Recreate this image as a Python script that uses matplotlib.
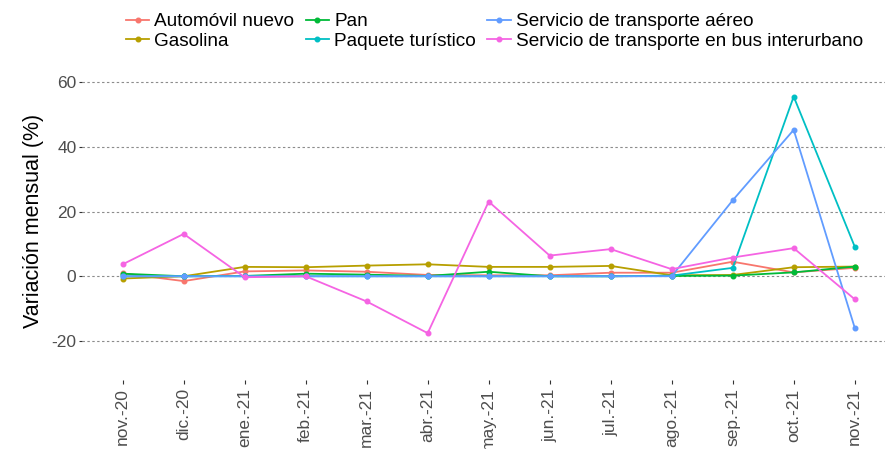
import matplotlib
matplotlib.use('Agg')
import matplotlib.pyplot as plt

# Data (monthly variation, %)
meses = ['nov.-20', 'dic.-20', 'ene.-21', 'feb.-21', 'mar.-21', 'abr.-21', 'may.-21',
         'jun.-21', 'jul.-21', 'ago.-21', 'sep.-21', 'oct.-21', 'nov.-21']

automovil_nuevo = [0.9, -1.5, 1.5, 1.8, 1.4, 0.4, 0.3, 0.3, 1.1, 1.1, 4.5, 1.2, 2.6]
gasolina = [-0.7, 0.0, 2.9, 2.8, 3.3, 3.7, 2.9, 2.9, 3.2, 0.3, 0.4, 2.8, 3.0]
pan = [0.8, 0.0, 0.1, 0.8, 0.5, 0.1, 1.4, 0.0, 0.0, 0.1, 0.2, 1.2, 3.0]
paquete_turistico = [0.0, 0.0, 0.0, 0.0, 0.0, 0.0, 0.0, 0.0, 0.0, 0.2, 2.6, 55.6, 9.2]
transporte_aereo = [0.0, 0.0, 0.0, 0.0, 0.0, 0.0, 0.0, 0.0, 0.0, 0.0, 23.5, 45.3, -15.9]
bus_interurbano = [3.7, 13.1, -0.3, 0.0, -7.8, -17.6, 23.1, 6.4, 8.4, 2.2, 5.8, 8.7, -7.1]

series = [
    ('Automóvil nuevo', automovil_nuevo, '#F8766D'),
    ('Gasolina', gasolina, '#B79F00'),
    ('Pan', pan, '#00BA38'),
    ('Paquete turístico', paquete_turistico, '#00BFC4'),
    ('Servicio de transporte aéreo', transporte_aereo, '#619CFF'),
    ('Servicio de transporte en bus interurbano', bus_interurbano, '#F564E3'),
]

plt.rcParams['font.family'] = ['Liberation Sans', 'DejaVu Sans']
plt.rcParams['axes.unicode_minus'] = False

fig = plt.figure(figsize=(8.85, 4.49), dpi=100)
ax = fig.add_axes([82 / 885, (449 - 380) / 449, 1 - 82 / 885, (380 - 62) / 449])

x = list(range(len(meses)))
handles = []
for name, vals, color in series:
    h, = ax.plot(x, vals, color=color, linewidth=1.3, marker='o', markersize=3.3,
                 label=name, zorder=3)
    handles.append(h)

ax.set_xlim(-0.667, 12.497)
ax.set_ylim(-32.1, 66.3)
ax.set_yticks([-20, 0, 20, 40, 60])
ax.set_xticks(x)
ax.set_xticklabels(meses, rotation=90, fontsize=12.5, color='#4D4D4D')
ax.tick_params(axis='y', labelsize=12.5, labelcolor='#4D4D4D', length=2.5,
               width=0.8, color='#333333', pad=1.5)
ax.tick_params(axis='x', length=3, width=0.8, color='#333333', pad=3)

ax.yaxis.grid(True, color='#8c8c8c', linestyle=(0, (2.2, 2.2)), linewidth=0.8)
ax.xaxis.grid(False)
ax.set_axisbelow(True)
for s in ax.spines.values():
    s.set_visible(False)

ax.set_ylabel('Variación mensual (%)', fontsize=15.5, color='black', labelpad=5.5)

fig.legend(handles=handles, ncol=3, loc='upper left', bbox_to_anchor=(126 / 885, 1 - 13 / 449),
           frameon=False, fontsize=13.7, handlelength=1.22, handletextpad=0.27,
           columnspacing=0.6, labelspacing=0.12, borderaxespad=0, borderpad=0)

fig.savefig('out.png', dpi=100)
